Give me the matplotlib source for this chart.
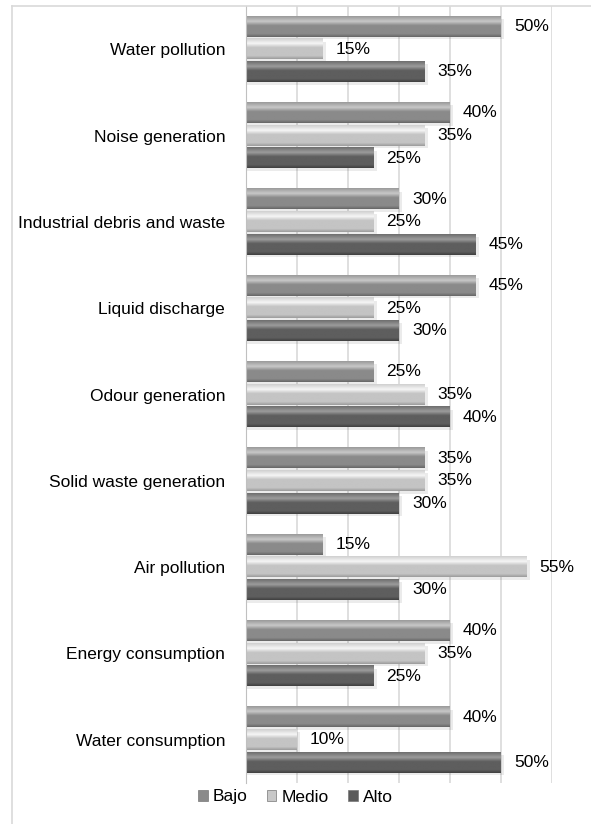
import matplotlib.pyplot as plt
import numpy as np
from matplotlib.colors import LinearSegmentedColormap
from matplotlib.patches import Patch, Rectangle

plt.rcParams['font.family'] = ['Liberation Sans', 'DejaVu Sans']

categories = ["Water pollution", "Noise generation", "Industrial debris and waste",
              "Liquid discharge", "Odour generation", "Solid waste generation",
              "Air pollution", "Energy consumption", "Water consumption"]
bajo = [50, 40, 30, 45, 25, 35, 15, 40, 40]
medio = [15, 35, 25, 25, 35, 35, 55, 35, 10]
alto = [35, 25, 45, 30, 40, 30, 30, 25, 50]
series = ["Bajo", "Medio", "Alto"]

# (edge, highlight, base, dark) shades for the beveled look
shades = {
    "Bajo": ["#9a9a9a", "#c8c8c8", "#8a8a8a", "#666666"],
    "Medio": ["#d0d0d0", "#f6f6f6", "#c4c4c4", "#9c9c9c"],
    "Alto": ["#6e6e6e", "#9c9c9c", "#5e5e5e", "#404040"],
}
legend_col = {"Bajo": "#8a8a8a", "Medio": "#c8c8c8", "Alto": "#5a5a5a"}

fig = plt.figure(figsize=(5.91, 8.24), dpi=100)
ax = fig.add_axes([246 / 591, 41 / 824, 306 / 591, 777 / 824])

n = len(categories)
centers = np.arange(n)
step = 0.262
height = 0.235

for k, (name, vals) in enumerate(zip(series, [bajo, medio, alto])):
    c = shades[name]
    cmap = LinearSegmentedColormap.from_list(
        name, [(0, c[0]), (0.25, c[1]), (0.45, c[2]), (0.85, c[2]), (1, c[3])])
    grad = np.linspace(0, 1, 64).reshape(-1, 1)
    for i, v in enumerate(vals):
        y = centers[i] + (k - 1) * step
        # soft shadow
        ax.add_patch(Rectangle((0, y - height / 2 + 0.03), v + 0.6, height,
                               facecolor="#000000", alpha=0.08, lw=0, zorder=1))
        ax.imshow(grad, cmap=cmap, aspect="auto", zorder=2,
                  extent=(0, v, y + height / 2, y - height / 2))
        ax.annotate(f"{v}%", xy=(v, y), xytext=(13, 0), textcoords="offset pixels",
                    va="center", ha="left", fontsize=12.5, annotation_clip=False)

ax.set_xlim(0, 60)
ax.set_ylim(n - 0.5, -0.5)
ax.set_xticks(np.arange(0, 61, 10))
ax.xaxis.set_ticklabels([])
ax.tick_params(axis="x", length=0)
ax.set_yticks(centers)
ax.set_yticklabels(categories, fontsize=12.5)
ax.tick_params(axis="y", length=0, pad=15)
ax.grid(axis="x", color="#d9d9d9", lw=1.2, zorder=0)
ax.set_axisbelow(True)
for s in ["top", "right", "bottom"]:
    ax.spines[s].set_visible(False)
ax.spines["left"].set_color("#c0c0c0")

handles = [Patch(facecolor=legend_col[s], edgecolor="#777777", lw=0.5, label=s) for s in series]
fig.legend(handles=handles, loc="center", bbox_to_anchor=(0.5, 27 / 824), ncol=3,
           frameon=False, fontsize=12.5, handlelength=0.55, handleheight=0.55,
           handletextpad=0.3, columnspacing=1.1)

# outer chart frame (left and top edges visible)
fig.add_artist(plt.Line2D([12 / 591, 12 / 591], [0, 818 / 824], color="#d9d9d9", lw=1.2))
fig.add_artist(plt.Line2D([12 / 591, 1], [818 / 824, 818 / 824], color="#d9d9d9", lw=1.2))

fig.savefig("out.png", dpi=100)
